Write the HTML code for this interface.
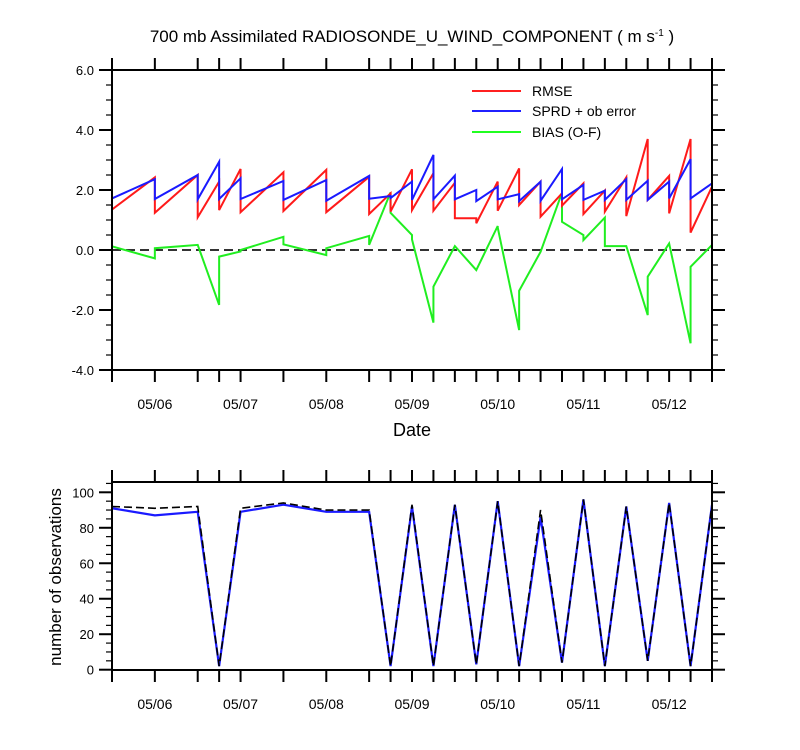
<!DOCTYPE html>
<html><head><meta charset="utf-8"><style>
body{margin:0;background:#fff;}
svg{display:block;font-family:"Liberation Sans",Arial,sans-serif;}
</style></head><body>
<svg id="c" width="800" height="750" viewBox="0 0 800 750">
<text x="412" y="42" text-anchor="middle" font-size="17">700 mb Assimilated RADIOSONDE_U_WIND_COMPONENT ( m s<tspan dy="-6" font-size="10">-1</tspan><tspan dy="6"> )</tspan></text>
<g id="topPanel"></g>
<g id="botPanel"></g>
<g>
<line x1="472" y1="91" x2="521" y2="91" stroke="#ff2020" stroke-width="2"/>
<text x="532" y="96" font-size="14">RMSE</text>
<line x1="472" y1="111" x2="521" y2="111" stroke="#2020ff" stroke-width="2"/>
<text x="532" y="116" font-size="14">SPRD + ob error</text>
<line x1="472" y1="132" x2="521" y2="132" stroke="#20ff20" stroke-width="2"/>
<text x="532" y="137" font-size="14">BIAS (O-F)</text>
</g>
<text x="412" y="436" text-anchor="middle" font-size="18">Date</text>
<text transform="translate(61,577) rotate(-90)" text-anchor="middle" font-size="17">number of observations</text>
</svg>
<script>
// hours since 05/05 12Z (index * 6h)
const timeIdx = [0,2,4,5,6,8,10,12,13,14,15,16,17,18,19,20,21,22,23,24,25,26,27,28];
const rmsePrior = [2.67,2.42,2.5,2.28,2.7,2.59,2.67,2.44,1.89,2.69,2.56,2.24,1.06,2.28,2.72,2.28,1.89,2.22,1.98,2.42,3.7,2.47,3.7,2.11];
const rmsePost  = [1.35,1.24,1.09,1.33,1.26,1.3,1.26,1.2,1.28,1.33,1.31,1.06,0.89,1.31,1.5,1.11,1.48,1.2,1.28,1.13,1.67,1.22,0.58,1.17];
const sprdPrior = [1.75,2.36,2.5,2.94,2.39,2.3,2.33,2.47,1.8,2.28,3.17,2.48,2.0,2.11,1.86,2.28,2.7,2.17,1.98,2.36,2.31,2.28,3.03,2.22];
const sprdPost  = [1.72,1.7,1.69,1.7,1.7,1.67,1.64,1.71,1.73,1.67,1.69,1.69,1.63,1.69,1.63,1.64,1.69,1.67,1.67,1.67,1.67,1.72,1.72,2.2];
const biasPrior = [0.15,-0.28,0.17,-1.83,-0.05,0.44,-0.17,0.47,1.92,0.5,-2.42,0.13,-0.67,0.8,-2.67,-0.06,1.91,0.5,1.08,0.13,-2.17,0.22,-3.11,0.17];
const biasPost  = [0.12,0.06,0.17,-0.22,0.0,0.19,0.06,0.17,1.24,0.35,-1.22,0.13,-0.67,0.75,-1.36,-0.06,0.94,0.33,0.13,0.13,-0.89,0.22,-0.56,0.17];
const nPossible = [92,91,92,2,91,94,90,90,2,93,2,93,3,95,2,90,4,96,2,92,5,94,2,93];
const nUsed     = [91,87,89,2,89,93,89,89,2,92,2,93,3,95,2,86,4,96,2,92,5,94,2,93];
const dayLabels = ["05/06","05/07","05/08","05/09","05/10","05/11","05/12"];
const topTicks = [-4,-2,0,2,4,6];
const botTicks = [0,20,40,60,80,100];

const NS="http://www.w3.org/2000/svg";
const X0=112,X1=712;
const xs=h=>X0+h/168*(X1-X0);
const yT=v=>250-v*30;
const yB=v=>669.7-v*1.774;
function mk(p,tag,attrs){const e=document.createElementNS(NS,tag);for(const k in attrs)e.setAttribute(k,attrs[k]);p.appendChild(e);return e;}
const topG=document.getElementById('topPanel'), botG=document.getElementById('botPanel');

function frame(g,yt,yb,name){
  const r=mk(g,'rect',{x:X0,y:yt,width:X1-X0,height:yb-yt,fill:'none',stroke:'#000','stroke-width':2});
  
  
  timeIdx.forEach(i=>{const x=xs(i*6);
    const a=mk(g,'line',{x1:x,y1:yt,x2:x,y2:yt-12,stroke:'#000','stroke-width':2});
    
    
    const b=mk(g,'line',{x1:x,y1:yb,x2:x,y2:yb+12,stroke:'#000','stroke-width':2});
    
    
  });
  dayLabels.forEach((d,k)=>{const t=mk(g,'text',{x:xs(12+24*k),y:yb+39,'text-anchor':'middle','font-size':14});t.textContent=d;
    
    });
}
function yaxis(g,ticks,minor,lo,hi,yf,fmt){
  for(let v=lo;v<=hi+1e-9;v+=minor){const y=yf(v);const maj=ticks.some(t=>Math.abs(t-v)<1e-6);const L=maj?13:6;
    const a=mk(g,'line',{x1:X0-L,y1:y,x2:X0,y2:y,stroke:'#000','stroke-width':maj?2:1.2});
    
    
    const b=mk(g,'line',{x1:X1,y1:y,x2:X1+L,y2:y,stroke:'#000','stroke-width':maj?2:1.2});
    
    }
  ticks.forEach(v=>{const t=mk(g,'text',{x:X0-18,y:yf(v)+5,'text-anchor':'end','font-size':13});t.textContent=fmt(v);
    
    });
}
// top panel
yaxis(topG,topTicks,0.5,-4,6,yT,v=>v.toFixed(1));
const z=mk(topG,'line',{x1:X0,y1:yT(0),x2:X1,y2:yT(0),stroke:'#333','stroke-width':2,'stroke-dasharray':'9,5'});


function pairPath(pr,po){return timeIdx.map((i,k)=>{const x=xs(i*6);return (k?'L':'M')+x+','+yT(pr[k])+'L'+x+','+yT(po[k]);}).join('');}
[[biasPrior,biasPost,'#20ee20','bias-line'],[rmsePrior,rmsePost,'#ff1a1a','rmse-line'],[sprdPrior,sprdPost,'#1a1aff','spread-line']].forEach(s=>{
  const p=mk(topG,'path',{d:pairPath(s[0],s[1]),fill:'none',stroke:s[2],'stroke-width':2,'stroke-linejoin':'miter'});
  
  
});
frame(topG,70,370,'top-plot');
// bottom panel
yaxis(botG,botTicks,5,0,105,yB,v=>String(v));
function linePath(a){return timeIdx.map((i,k)=>(k?'L':'M')+xs(i*6)+','+yB(a[k])).join('');}
const pu=mk(botG,'path',{d:linePath(nUsed),fill:'none',stroke:'#1a1aff','stroke-width':2.2});


const pp=mk(botG,'path',{d:linePath(nPossible),fill:'none',stroke:'#000','stroke-width':1.6,'stroke-dasharray':'8,4'});


frame(botG,482,670,'bottom-plot');
</script>
</body></html>
